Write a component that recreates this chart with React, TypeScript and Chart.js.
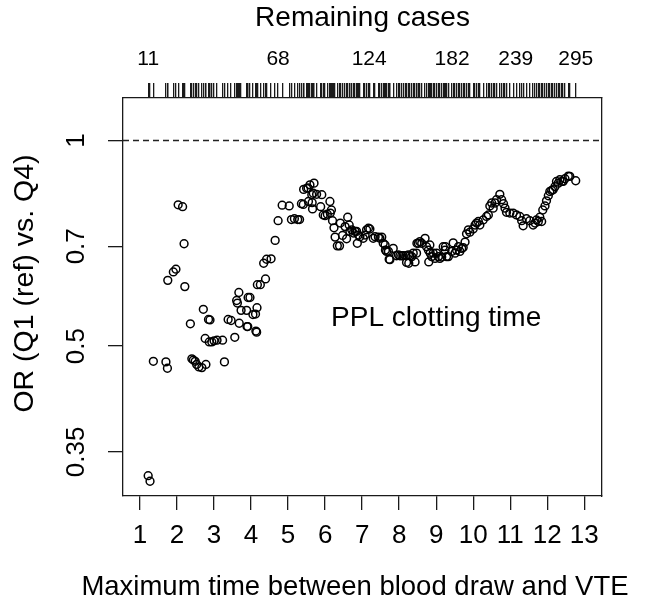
import React, { useEffect, useRef } from 'react';
import { Chart, registerables } from 'chart.js';

Chart.register(...registerables);

const xTicks = [1, 2, 3, 4, 5, 6, 7, 8, 9, 10, 11, 12, 13];
const yTicks = [0.35, 0.5, 0.7, 1];
const topTickPositions = [1.22, 4.73, 7.19, 9.43, 11.15, 12.77];
const topTickLabels = ['11', '68', '124', '182', '239', '295'];

const xMin = 0.54;
const xMax = 13.48;
const yMin = 0.3016;
const yMax = 1.154;
const refLine = 1;

const annotationText = 'PPL clotting time';
const annotationX = 9;
const annotationY = 0.55;

const xTitle = 'Maximum time between blood draw and VTE';
const yTitle = 'OR (Q1 (ref) vs. Q4)';
const topTitle = 'Remaining cases';

const maxTime = [
  1.22, 1.27, 1.36, 1.70, 1.74, 1.75, 1.90, 1.97, 2.03, 2.15,
  2.19, 2.21, 2.36, 2.40, 2.44, 2.49, 2.53, 2.59, 2.67, 2.71,
  2.76, 2.78, 2.85, 2.87, 2.89, 2.94, 3.00, 3.08, 3.23, 3.28,
  3.38, 3.46, 3.56, 3.61, 3.63, 3.67, 3.68, 3.73, 3.88, 3.89,
  3.91, 3.92, 3.97, 4.05, 4.12, 4.13, 4.15, 4.16, 4.17, 4.25,
  4.34, 4.39, 4.42, 4.54, 4.65, 4.73, 4.84, 5.03, 5.09, 5.17,
  5.26, 5.31, 5.36, 5.41, 5.42, 5.50, 5.54, 5.55, 5.59, 5.64,
  5.65, 5.66, 5.68, 5.70, 5.77, 5.88, 5.91, 5.95, 6.00, 6.06,
  6.13, 6.14, 6.17, 6.20, 6.24, 6.27, 6.33, 6.39, 6.41, 6.47,
  6.54, 6.58, 6.61, 6.65, 6.67, 6.72, 6.76, 6.81, 6.85, 6.87,
  6.90, 6.94, 7.03, 7.08, 7.12, 7.17, 7.21, 7.30, 7.35, 7.44,
  7.48, 7.53, 7.57, 7.62, 7.63, 7.66, 7.71, 7.73, 7.75, 7.84,
  7.93, 7.98, 8.02, 8.07, 8.11, 8.18, 8.20, 8.25, 8.26, 8.29,
  8.34, 8.38, 8.43, 8.47, 8.48, 8.52, 8.56, 8.61, 8.70, 8.74,
  8.79, 8.80, 8.83, 8.84, 8.88, 8.92, 8.97, 9.01, 9.06, 9.10,
  9.15, 9.19, 9.24, 9.25, 9.28, 9.33, 9.42, 9.46, 9.51, 9.55,
  9.60, 9.64, 9.69, 9.73, 9.78, 9.82, 9.87, 9.91, 10.00, 10.05,
  10.09, 10.14, 10.18, 10.27, 10.36, 10.41, 10.45, 10.50, 10.54, 10.59,
  10.63, 10.72, 10.77, 10.82, 10.86, 10.90, 10.99, 11.08, 11.17, 11.26,
  11.31, 11.35, 11.44, 11.53, 11.62, 11.67, 11.71, 11.76, 11.80, 11.85,
  11.88, 11.94, 11.98, 12.03, 12.07, 12.12, 12.16, 12.21, 12.25, 12.30,
  12.34, 12.39, 12.43, 12.48, 12.57, 12.61, 12.77,
];

const oddsRatio = [
  0.323, 0.317, 0.475, 0.474, 0.464, 0.624, 0.642, 0.648, 0.805, 0.800,
  0.706, 0.611, 0.539, 0.479, 0.477, 0.475, 0.470, 0.466, 0.465, 0.566,
  0.513, 0.470, 0.547, 0.507, 0.546, 0.507, 0.509, 0.510, 0.510, 0.474,
  0.547, 0.545, 0.515, 0.583, 0.578, 0.599, 0.540, 0.564, 0.564, 0.534,
  0.534, 0.589, 0.589, 0.556, 0.557, 0.526, 0.524, 0.569, 0.615, 0.615,
  0.661, 0.627, 0.670, 0.671, 0.714, 0.763, 0.804, 0.802, 0.766, 0.768,
  0.766, 0.766, 0.808, 0.806, 0.848, 0.851, 0.852, 0.814, 0.861, 0.833,
  0.811, 0.794, 0.837, 0.866, 0.834, 0.800, 0.833, 0.778, 0.776, 0.780,
  0.814, 0.783, 0.791, 0.763, 0.745, 0.722, 0.701, 0.701, 0.757, 0.726,
  0.748, 0.718, 0.772, 0.752, 0.736, 0.740, 0.732, 0.736, 0.736, 0.707,
  0.727, 0.723, 0.719, 0.727, 0.740, 0.744, 0.742, 0.719, 0.723, 0.722,
  0.719, 0.722, 0.707, 0.703, 0.691, 0.688, 0.688, 0.670, 0.669, 0.695,
  0.678, 0.680, 0.678, 0.678, 0.678, 0.678, 0.663, 0.680, 0.661, 0.678,
  0.676, 0.684, 0.664, 0.684, 0.707, 0.707, 0.711, 0.707, 0.719, 0.699,
  0.691, 0.664, 0.703, 0.684, 0.676, 0.684, 0.672, 0.684, 0.676, 0.672,
  0.675, 0.699, 0.691, 0.699, 0.676, 0.676, 0.688, 0.708, 0.684, 0.691,
  0.699, 0.688, 0.695, 0.697, 0.710, 0.730, 0.740, 0.734, 0.742, 0.752,
  0.757, 0.761, 0.752, 0.765, 0.774, 0.778, 0.802, 0.810, 0.796, 0.810,
  0.819, 0.834, 0.819, 0.808, 0.796, 0.785, 0.783, 0.783, 0.778, 0.774,
  0.763, 0.750, 0.768, 0.763, 0.752, 0.757, 0.765, 0.761, 0.772, 0.761,
  0.791, 0.802, 0.816, 0.830, 0.842, 0.845, 0.847, 0.856, 0.871, 0.866,
  0.876, 0.871, 0.871, 0.879, 0.887, 0.886, 0.873,
];

const FONT = "'Liberation Sans', Arial, Helvetica, sans-serif";
const INK = '#1a1a1a';

const overlayPlugin = {
  id: 'overlay',
  beforeDatasetsDraw(chart: any) {
    const { ctx, chartArea, scales } = chart;
    const y = scales.y.getPixelForValue(refLine);
    ctx.save();
    ctx.strokeStyle = '#222';
    ctx.lineWidth = 1.5;
    ctx.setLineDash([6, 4]);
    ctx.beginPath();
    ctx.moveTo(chartArea.left, y);
    ctx.lineTo(chartArea.right, y);
    ctx.stroke();
    ctx.restore();
  },
  afterDraw(chart: any) {
    const { ctx, chartArea, scales } = chart;
    ctx.save();
    ctx.fillStyle = '#000';
    ctx.font = `28px ${FONT}`;
    ctx.textAlign = 'center';
    ctx.textBaseline = 'middle';
    ctx.fillText(
      annotationText,
      scales.x.getPixelForValue(annotationX),
      scales.y.getPixelForValue(annotationY)
    );
    // x axis title, below the plot region (wider than it)
    ctx.font = `27.5px ${FONT}`;
    ctx.fillText(xTitle, (chartArea.left + chartArea.right) / 2 - 7.5, chartArea.bottom + 91);
    // y axis title (rotated, reading upward)
    ctx.font = `28.5px ${FONT}`;
    ctx.translate(25.3, (chartArea.top + chartArea.bottom) / 2 - 13.5);
    ctx.rotate(-Math.PI / 2);
    ctx.fillText(yTitle, 0, 0);
    ctx.restore();
  },
};

export default function App() {
  const canvasRef = useRef<HTMLCanvasElement | null>(null);

  useEffect(() => {
    const canvas = canvasRef.current;
    if (!canvas) return;
    const points = maxTime.map((t, i) => ({ x: t, y: oddsRatio[i] }));
    const nRug = maxTime.length;

    const chart = new Chart(canvas, {
      type: 'scatter',
      data: {
        datasets: [
          {
            data: points,
            pointStyle: 'circle',
            pointRadius: 3.9,
            pointHoverRadius: 3.9,
            pointBorderWidth: 1.5,
            pointBorderColor: '#000',
            pointBackgroundColor: 'rgba(0,0,0,0)',
            showLine: false,
          },
        ],
      },
      options: {
        responsive: false,
        animation: false,
        devicePixelRatio: 1,
        layout: { padding: 0 },
        events: [],
        plugins: {
          legend: { display: false },
          tooltip: { enabled: false },
          title: { display: false },
        },
        scales: {
          x: {
            type: 'linear',
            position: 'bottom',
            min: xMin,
            max: xMax,
            afterBuildTicks: (s: any) => {
              s.ticks = xTicks.map((v) => ({ value: v }));
            },
            afterFit: (s: any) => {
              s.height = 108;
            },
            ticks: {
              autoSkip: false,
              maxRotation: 0,
              minRotation: 0,
              padding: 10.4,
              color: '#000',
              font: { family: FONT, size: 26 },
              callback: (v: any) => String(v),
            },
            grid: {
              drawOnChartArea: false,
              drawTicks: true,
              tickLength: 14,
              color: INK,
              lineWidth: 1.3,
            },
            border: { display: true, color: INK, width: 1.3 },
            title: { display: false },
          },
          x2: {
            type: 'linear',
            position: 'top',
            min: xMin,
            max: xMax,
            afterBuildTicks: (s: any) => {
              s.ticks = [
                ...maxTime.map((v) => ({ value: v })),
                ...topTickPositions.map((v) => ({ value: v })),
              ];
            },
            afterFit: (s: any) => {
              s.height = 98;
            },
            ticks: {
              autoSkip: false,
              maxRotation: 0,
              minRotation: 0,
              padding: 11.2,
              color: '#000',
              font: { family: FONT, size: 21 },
              callback: (_v: any, i: number) => (i >= nRug ? topTickLabels[i - nRug] : ''),
            },
            grid: {
              drawOnChartArea: false,
              drawTicks: true,
              tickLength: 15,
              color: (c: any) => (c.index >= nRug ? 'rgba(0,0,0,0)' : INK),
              lineWidth: 1.3,
            },
            border: { display: true, color: INK, width: 1.3 },
            title: {
              display: true,
              text: topTitle,
              color: '#000',
              font: { family: FONT, size: 28 },
              padding: { top: 1.5, bottom: 0 },
            },
          },
          y: {
            type: 'logarithmic',
            position: 'left',
            min: yMin,
            max: yMax,
            afterBuildTicks: (s: any) => {
              s.ticks = yTicks.map((v) => ({ value: v }));
            },
            afterFit: (s: any) => {
              s.width = 123;
            },
            ticks: {
              autoSkip: false,
              minRotation: 90,
              maxRotation: 90,
              crossAlign: 'center',
              padding: 5.7,
              color: '#000',
              font: { family: FONT, size: 26 },
              callback: (v: any) => String(v),
            },
            grid: {
              drawOnChartArea: false,
              drawTicks: true,
              tickLength: 15,
              color: INK,
              lineWidth: 1.3,
            },
            border: { display: true, color: INK, width: 1.3 },
          },
          yRight: {
            type: 'linear',
            position: 'right',
            min: 0,
            max: 1,
            afterFit: (s: any) => {
              s.width = 49;
            },
            ticks: { display: false },
            grid: { drawOnChartArea: false, drawTicks: false },
            border: { display: true, color: INK, width: 1.3 },
          },
        },
      } as any,
      plugins: [overlayPlugin],
    });

    return () => {
      chart.destroy();
    };
  }, []);

  return (
    <div
      style={{
        position: 'fixed',
        left: 0,
        top: 0,
        width: 651,
        height: 604,
        background: '#fff',
      }}
    >
      <canvas ref={canvasRef} width={651} height={604} style={{ display: 'block', width: 651, height: 604 }} />
    </div>
  );
}
